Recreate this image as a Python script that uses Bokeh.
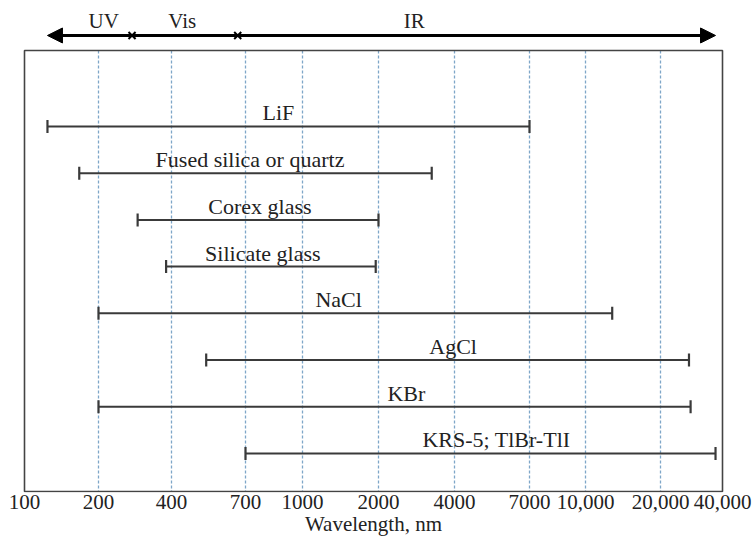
import numpy as np
from bokeh.plotting import figure
from bokeh.models import Range1d, FixedTicker, Arrow, NormalHead, ColumnDataSource
from bokeh.core.properties import value
from bokeh.embed import file_html
from bokeh.resources import INLINE

# ---------------- data ----------------
tick_wavelengths = [100, 200, 400, 700, 1000, 2000, 4000, 7000, 10000, 20000, 40000]
tick_labels = ["100", "200", "400", "700", "1000", "2000", "4000", "7000",
               "10,000", "20,000", "40,000"]

materials = ["LiF", "Fused silica or quartz", "Corex glass", "Silicate glass",
             "NaCl", "AgCl", "KBr", "KRS-5; TlBr-TlI"]
range_start_nm = [124, 167, 290, 380, 200, 520, 200, 700]
range_end_nm = [7000, 3250, 2000, 1950, 12800, 27500, 28000, 37000]
label_center_nm = [860, 720, 766, 780, 1390, 3950, 2580, 5470]

regions = ["UV", "Vis", "IR"]
region_label_nm = [210, 434, 2770]
region_boundaries_nm = [275, 660]
region_arrow_nm = [124, 37000]

# ---------------- non-uniform axis scale ----------------
axis_pos = [0, 74, 147, 221, 278, 354, 430, 505, 561, 636, 698]


def to_axis(w):
    return np.interp(np.log(np.asarray(w, float)), np.log(tick_wavelengths), axis_pos)


FONT = value("Liberation Serif")
ROW = list(range(len(materials)))
BOX_TOP, BOX_BOTTOM = -1.627, 7.816
ARROW_Y = -1.949
REGION_Y = -2.25
LABEL_LIFT = 0.29

p = figure(width=752, height=539, output_backend="svg", toolbar_location=None,
           x_range=Range1d(-3, 701), y_range=Range1d(7.837, -2.698),
           min_border_left=21, min_border_right=27, min_border_top=0,
           min_border_bottom=47, y_axis_location=None)
p.outline_line_color = None
p.xgrid.visible = False
p.ygrid.visible = False
p.background_fill_color = "white"
p.border_fill_color = "white"

# x axis
ax = p.xaxis[0]
ax.ticker = FixedTicker(ticks=axis_pos)
ax.major_label_overrides = {pos: lab for pos, lab in zip(axis_pos, tick_labels)}
ax.axis_line_color = None
ax.major_tick_line_color = None
ax.minor_tick_line_color = None
ax.major_tick_in = 0
ax.major_tick_out = 0
ax.major_label_standoff = 2
ax.major_label_text_font = "Liberation Serif"
ax.major_label_text_font_size = "21px"
ax.major_label_text_color = "#222222"
ax.axis_label = "Wavelength, nm"
ax.axis_label_text_font = "Liberation Serif"
ax.axis_label_text_font_size = "21px"
ax.axis_label_text_font_style = "normal"
ax.axis_label_text_color = "#222222"
ax.axis_label_standoff = 0

# dotted grid lines at interior ticks
gx = to_axis(tick_wavelengths[1:-1])
p.segment(x0=gx, x1=gx, y0=[BOX_TOP] * len(gx), y1=[BOX_BOTTOM] * len(gx),
          line_color="#7ea6c8", line_width=1.3, line_dash="3 2")

# frame box
p.quad(left=[to_axis(tick_wavelengths[0])], right=[to_axis(tick_wavelengths[-1])],
       top=[BOX_TOP], bottom=[BOX_BOTTOM], fill_color=None,
       line_color="#444444", line_width=1.6)

# material ranges
src = ColumnDataSource(dict(
    x0=to_axis(range_start_nm), x1=to_axis(range_end_nm), y=ROW,
    ly=[r - LABEL_LIFT for r in ROW],
    lx=to_axis(label_center_nm), name=materials))
p.segment(x0="x0", x1="x1", y0="y", y1="y", source=src,
          line_color="#3a3a3a", line_width=2)
p.scatter(x="x0", y="y", source=src, marker="dash", angle=np.pi / 2, size=13,
          line_color="#3a3a3a", line_width=2.2)
p.scatter(x="x1", y="y", source=src, marker="dash", angle=np.pi / 2, size=13,
          line_color="#3a3a3a", line_width=2.2)
p.text(x="lx", y="ly", text="name", source=src, text_font=FONT,
       text_font_size="22px", text_align="center", text_baseline="alphabetic",
       text_color="#222222")

# top region arrow
ax0, ax1 = to_axis(region_arrow_nm)
p.add_layout(Arrow(x_start=float(ax0), y_start=ARROW_Y, x_end=float(ax1), y_end=ARROW_Y,
                   line_width=3, line_color="black",
                   start=NormalHead(size=15, fill_color="black", line_color="black"),
                   end=NormalHead(size=15, fill_color="black", line_color="black")))
p.scatter(x=to_axis(region_boundaries_nm), y=[ARROW_Y] * len(region_boundaries_nm),
          marker="x", size=10, line_color="black", line_width=2)
p.text(x=to_axis(region_label_nm), y=[REGION_Y] * len(regions), text=regions,
       text_font=FONT, text_font_size="21px", text_align="center",
       text_baseline="alphabetic", text_color="#222222")

open("out.html", "w").write(file_html(p, INLINE))
